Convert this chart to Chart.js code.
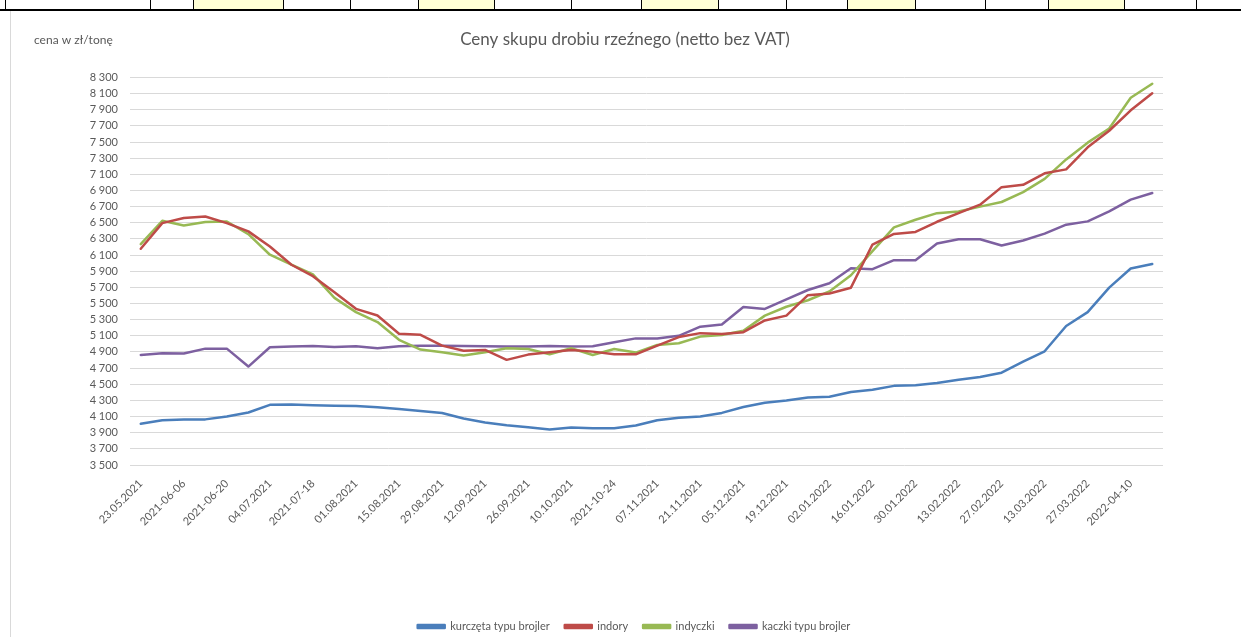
<!DOCTYPE html>
<html lang="pl">
<head>
<meta charset="utf-8">
<title>Ceny skupu drobiu rzeźnego</title>
<script src="https://cdn.jsdelivr.net/npm/chart.js@4.4.1/dist/chart.umd.min.js"></script>
<style>
  body { margin:0; width:1241px; height:637px; overflow:hidden; background:#fff; font-family: Lato, sans-serif; position:relative; }
  #strip { position:absolute; left:0; top:0; width:1241px; height:9px; border-bottom:2px solid #000; }
  .cell { position:absolute; top:0; height:9px; border-left:1px solid #000; }
  .yellow { background:#ffffd6; }
  #frame { position:absolute; left:10px; top:11px; width:1231px; height:640px; border-left:1px solid #d9d9d9; }
  #box { position:absolute; left:11px; top:12px; width:1230px; height:630px; }
</style>
</head>
<body>
<div id="strip"></div>
<div id="frame"></div>
<div id="box"><canvas id="chart"></canvas></div>
<script>
  // tygodnie notowań
  var labels = ["23.05.2021","30.05.2021","2021-06-06","13.06.2021","2021-06-20","27.06.2021","04.07.2021","11.07.2021",
    "2021-07-18","25.07.2021","01.08.2021","08.08.2021","15.08.2021","22.08.2021","29.08.2021","05.09.2021",
    "12.09.2021","19.09.2021","26.09.2021","03.10.2021","10.10.2021","17.10.2021","2021-10-24","31.10.2021",
    "07.11.2021","14.11.2021","21.11.2021","28.11.2021","05.12.2021","12.12.2021","19.12.2021","26.12.2021",
    "02.01.2022","09.01.2022","16.01.2022","23.01.2022","30.01.2022","06.02.2022","13.02.2022","20.02.2022",
    "27.02.2022","06.03.2022","13.03.2022","20.03.2022","27.03.2022","03.04.2022","2022-04-10","17.04.2022"];

  var kurczeta = [4010,4055,4065,4065,4100,4150,4245,4250,4240,4235,4230,4215,4195,4170,4145,4075,
    4026,3993,3968,3940,3965,3955,3955,3989,4055,4084,4100,4145,4219,4272,4300,4337,
    4345,4403,4431,4480,4488,4516,4557,4590,4643,4780,4908,5222,5393,5696,5933,5990];
  var indory = [6178,6495,6558,6578,6496,6393,6205,5980,5838,5638,5434,5352,5125,5112,4978,4916,
    4925,4802,4867,4896,4925,4904,4871,4871,4978,5084,5133,5121,5145,5290,5350,5603,
    5623,5696,6230,6361,6386,6512,6619,6724,6941,6970,7112,7161,7434,7639,7892,8104];
  var indyczki = [6236,6525,6467,6508,6516,6358,6104,5980,5860,5570,5393,5270,5050,4929,4896,4855,
    4896,4945,4937,4871,4945,4863,4937,4892,4986,5007,5090,5110,5162,5350,5460,5540,
    5650,5850,6148,6443,6537,6619,6640,6700,6757,6880,7043,7284,7492,7667,8047,8222];
  var kaczki = [4863,4884,4880,4941,4941,4719,4958,4966,4974,4962,4970,4945,4970,4978,4978,4974,
    4970,4966,4966,4974,4966,4970,5019,5068,5068,5100,5213,5240,5456,5433,5550,5667,
    5750,5937,5925,6036,6036,6243,6296,6296,6218,6280,6366,6476,6517,6640,6786,6868];

  // pasek arkusza nad wykresem
  var cellEdges = [5,150,193,283,350,418,494,571,641,718,786,847,915,985,1048,1124,1196,1241];
  var yellowCells = [193,418,641,847,1048];
  var strip = document.getElementById('strip');
  for (var i = 0; i < cellEdges.length - 1; i++) {
    var c = document.createElement('div');
    c.className = 'cell' + (yellowCells.indexOf(cellEdges[i]) >= 0 ? ' yellow' : '');
    c.style.left = cellEdges[i] + 'px';
    c.style.width = (cellEdges[i+1] - cellEdges[i] - 1) + 'px';
    strip.appendChild(c);
  }

  var gray = '#595959';
  Chart.defaults.font.family = 'Lato, sans-serif';
  Chart.defaults.font.size = 11;
  Chart.defaults.color = gray;

  var unitLabel = {
    id: 'unitLabel',
    afterLayout: function (chart) {
      // tytuł i legenda wyśrodkowane jak w Excelu (względem całego obszaru)
      if (chart.titleBlock) { chart.titleBlock.left += 38; chart.titleBlock.right += 38; }
      if (chart.legend) { chart.legend.left += 47; chart.legend.right += 47; }
    },
    afterDraw: function (chart) {
      var ctx = chart.ctx;
      ctx.save();
      ctx.fillStyle = gray;
      ctx.font = '12px Lato, sans-serif';
      ctx.textAlign = 'left';
      ctx.textBaseline = 'middle';
      ctx.fillText('cena w zł/tonę', 23, 28);
      ctx.restore();
    }
  };

  function series(label, data, color) {
    return {
      label: label,
      data: data,
      borderColor: color,
      backgroundColor: color,
      borderWidth: 2.5,
      pointRadius: 0,
      tension: 0,
      borderJoinStyle: 'round',
      borderCapStyle: 'round'
    };
  }

  new Chart(document.getElementById('chart'), {
    type: 'line',
    data: {
      labels: labels,
      datasets: [
        series('kurczęta typu brojler', kurczeta, '#4a7ebb'),
        series('indory', indory, '#be4b48'),
        series('indyczki', indyczki, '#98b954'),
        series('kaczki typu brojler', kaczki, '#7d60a0')
      ]
    },
    options: {
      responsive: true,
      maintainAspectRatio: false,
      animation: false,
      layout: { padding: { left: 0, right: 78, top: 0, bottom: 0 } },
      plugins: {
        title: {
          display: true,
          text: 'Ceny skupu drobiu rzeźnego (netto bez VAT)',
          color: gray,
          font: { size: 17, weight: 'normal' },
          padding: { top: 17, bottom: 28 }
        },
        legend: {
          position: 'bottom',
          labels: { boxWidth: 27, boxHeight: 3, padding: 15, color: gray }
        },
        tooltip: { enabled: false }
      },
      scales: {
        x: {
          offset: true,
          grid: { display: false },
          border: { display: false },
          afterFit: function (scale) { scale.height = 141; },
          ticks: {
            autoSkip: false,
            maxRotation: 45,
            minRotation: 45,
            padding: 4,
            callback: function (value, index) {
              return index % 2 === 0 ? this.getLabelForValue(value) : '';
            }
          }
        },
        y: {
          min: 3500,
          max: 8300,
          afterFit: function (scale) { scale.width = 119; },
          border: { display: false },
          grid: { color: '#d9d9d9', drawTicks: false },
          ticks: {
            stepSize: 200,
            autoSkip: false,
            padding: 12,
            callback: function (v) {
              return String(v).replace(/\B(?=(\d{3})+(?!\d))/g, ' ');
            }
          }
        }
      }
    },
    plugins: [unitLabel]
  });
</script>
</body>
</html>
